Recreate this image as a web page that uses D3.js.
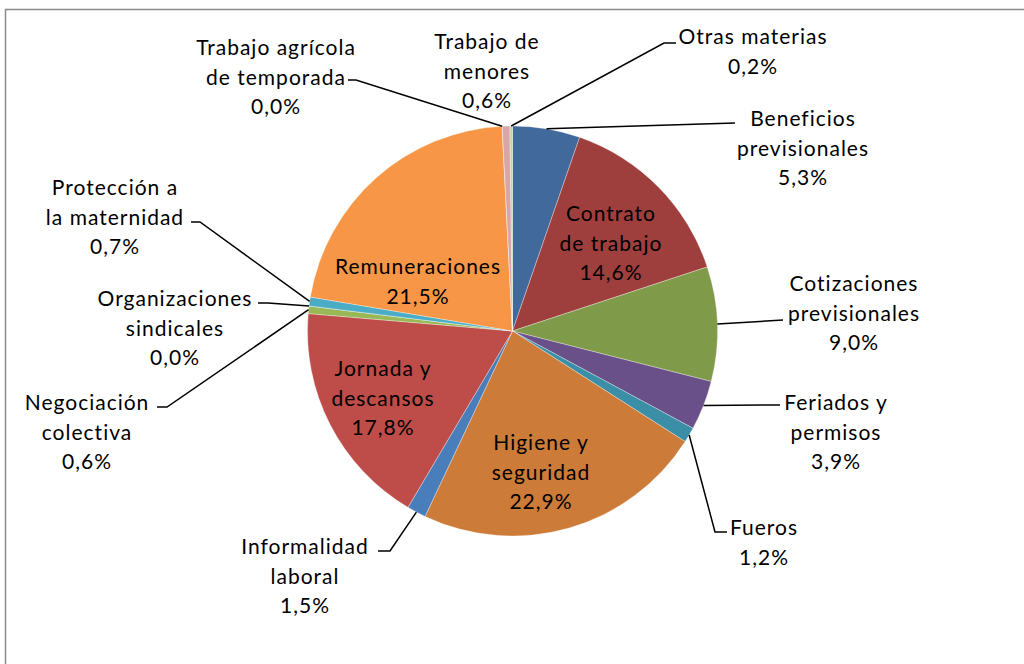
<!DOCTYPE html>
<html>
<head>
<meta charset="utf-8">
<script src="https://cdn.jsdelivr.net/npm/d3@7/dist/d3.min.js"></script>
<style>
  html, body { margin: 0; padding: 0; background: #ffffff; }
  svg { display: block; }
  text { font-family: Lato, "Open Sans", sans-serif; font-size: 21px; fill: #000; letter-spacing: 1px; }
</style>
</head>
<body>
<svg id="chart" width="1024" height="664"></svg>
<script>
// ---- Data ----
const categories = [
  "Beneficios previsionales", "Contrato de trabajo", "Cotizaciones previsionales",
  "Feriados y permisos", "Fueros", "Higiene y seguridad", "Informalidad laboral",
  "Jornada y descansos", "Negociación colectiva", "Organizaciones sindicales",
  "Protección a la maternidad", "Remuneraciones", "Trabajo agrícola de temporada",
  "Trabajo de menores", "Otras materias"
];
const values = [5.3, 14.6, 9.0, 3.9, 1.2, 22.9, 1.5, 17.8, 0.6, 0.0, 0.7, 21.5, 0.0, 0.6, 0.2];
const labelLines = [
  ["Beneficios", "previsionales"], ["Contrato", "de trabajo"], ["Cotizaciones", "previsionales"],
  ["Feriados y", "permisos"], ["Fueros"], ["Higiene y", "seguridad"], ["Informalidad", "laboral"],
  ["Jornada y", "descansos"], ["Negociación", "colectiva"], ["Organizaciones", "sindicales"],
  ["Protección a", "la maternidad"], ["Remuneraciones"], ["Trabajo agrícola", "de temporada"],
  ["Trabajo de", "menores"], ["Otras materias"]
];
const colors = [
  "#41699C", "#9E3F3D", "#7F9A48", "#6A5088", "#3A8FA6", "#CD7B39", "#4A7EBB",
  "#BE4C49", "#98B955", "#7E649E", "#4BACC6", "#F79646", "#C0504D", "#D8A6A8", "#C3D69B"
];

// ---- Layout (positions, not data) ----
const cx = 512.5, cy = 331, radius = 205;
// label: text center x, first line center y; leader: elbow point and horizontal end x (null = no leader)
const labelLayout = [
  {x: 803, y: 117, elbow: [735, 123], endX: null, inside: false},
  {x: 611, y: 212, inside: true},
  {x: 854, y: 282, elbow: [783, 320], endX: null, inside: false},
  {x: 836, y: 401, elbow: [780, 405], endX: null, inside: false},
  {x: 764, y: 526, elbow: [715, 532], endX: 727, inside: false},
  {x: 541, y: 441, inside: true},
  {x: 305, y: 545, elbow: [390, 551], endX: 378, inside: false},
  {x: 383, y: 367, inside: true},
  {x: 87, y: 401, elbow: [167, 407], endX: 157, inside: false},
  {x: 175, y: 297, elbow: [268, 303], endX: 258, inside: false},
  {x: 115, y: 186, elbow: [200, 222], endX: 191, inside: false},
  {x: 418, y: 265, inside: true},
  {x: 276, y: 46, elbow: [356, 80], endX: 348, inside: false},
  {x: 487, y: 40, elbow: null, inside: false},
  {x: 753, y: 35, elbow: [664, 43], endX: 676, inside: false}
];
const lineStep = 29.5;

const svg = d3.select("#chart");

// chart area border
svg.append("rect")
  .attr("x", 5.5).attr("y", 9.5)
  .attr("width", 1030).attr("height", 700)
  .attr("fill", "none").attr("stroke", "#8a8a8a").attr("stroke-width", 1.5);

const table = categories.map((c, i) => ({cat: c, value: values[i], color: colors[i], lines: labelLines[i], layout: labelLayout[i], i}));

const pie = d3.pie().sort(null).value(d => d.value);
const arcs = pie(table);
const arc = d3.arc().innerRadius(0).outerRadius(radius);

const g = svg.append("g").attr("transform", `translate(${cx},${cy})`);

g.selectAll("path.slice")
  .data(arcs)
  .join("path")
  .attr("class", "slice")
  .attr("d", arc)
  .attr("fill", d => d.data.color)
  .attr("stroke", "#ffffff")
  .attr("stroke-width", 0.4)
  .attr("stroke-opacity", 0.8);

// leader lines
const fmt = v => d3.format(".1f")(v).replace(".", ",") + "%";

arcs.forEach(a => {
  const L = a.data.layout;
  if (L.inside || !L.elbow) return;
  const mid = (a.startAngle + a.endAngle) / 2;
  const sx = cx + radius * Math.sin(mid);
  const sy = cy - radius * Math.cos(mid);
  const pts = [[sx, sy], L.elbow];
  if (L.endX != null) pts.push([L.endX, L.elbow[1]]);
  svg.append("path")
    .attr("d", d3.line()(pts))
    .attr("fill", "none")
    .attr("stroke", "#000")
    .attr("stroke-width", 1.5);
});

// labels
arcs.forEach(a => {
  const L = a.data.layout;
  const lines = a.data.lines.concat([fmt(a.data.value)]);
  const t = svg.append("text")
    .attr("text-anchor", "middle")
    .attr("dominant-baseline", "central");
  lines.forEach((ln, k) => {
    t.append("tspan")
      .attr("x", L.x)
      .attr("y", L.y + k * lineStep)
      .text(ln);
  });
});
</script>
</body>
</html>
